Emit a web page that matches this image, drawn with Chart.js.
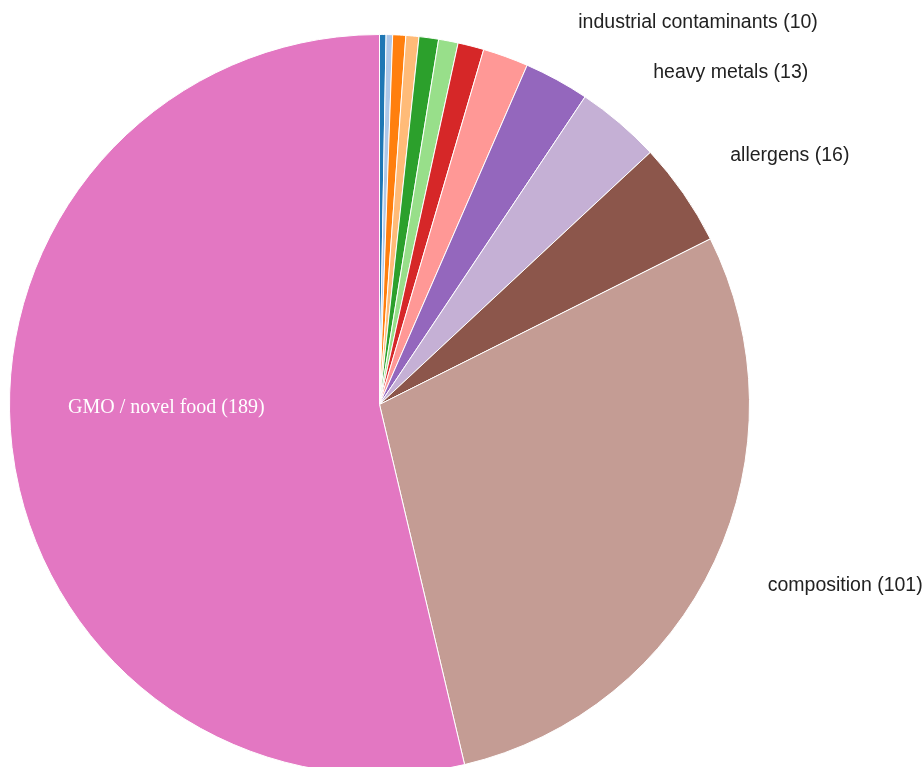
<!DOCTYPE html>
<html>
<head>
<meta charset="utf-8">
<script src="https://cdn.jsdelivr.net/npm/chart.js@4/dist/chart.umd.min.js"></script>
<style>
  html, body { margin: 0; padding: 0; background: #fff; overflow: hidden; }
  #wrap { position: relative; width: 923px; height: 800px; }
</style>
</head>
<body>
<div id="wrap"><canvas id="graph"></canvas></div>
<script>
// Hazard categories, clockwise from 12 o'clock
const categories = [
  'pathogenic micro-organisms',
  'mycotoxins',
  'pesticide residues',
  'foreign bodies',
  'food additives',
  'labelling',
  'veterinary residues',
  'poor or insufficient controls',
  'industrial contaminants',
  'heavy metals',
  'allergens',
  'composition',
  'GMO / novel food'
];
const counts = [1, 1, 2, 2, 3, 3, 4, 7, 10, 13, 16, 101, 189];
const colors = [
  '#1f77b4', '#aec7e8', '#ff7f0e', '#ffbb78', '#2ca02c', '#98df8a',
  '#d62728', '#ff9896', '#9467bd', '#c5b0d5', '#8c564b', '#c49c94', '#e377c2'
];
// slices with a label outside the pie, and the one labelled inside
const outsideLabels = ['industrial contaminants', 'heavy metals', 'allergens', 'composition'];
const insideLabels = ['GMO / novel food'];

// Draws "name (count)" labels next to / inside slices
const sliceLabels = {
  id: 'sliceLabels',
  afterDatasetsDraw(chart) {
    const ctx = chart.ctx;
    const meta = chart.getDatasetMeta(0);
    ctx.save();
    meta.data.forEach((arc, i) => {
      const name = categories[i];
      const text = name + ' (' + counts[i] + ')';
      const mid = (arc.startAngle + arc.endAngle) / 2;
      const r = arc.outerRadius;
      if (outsideLabels.includes(name)) {
        const x = arc.x + Math.cos(mid) * r * 1.2;
        const y = arc.y + Math.sin(mid) * r * 1.17;
        ctx.font = '19.5px "Liberation Sans", Arial, sans-serif';
        ctx.fillStyle = '#222';
        ctx.textAlign = 'left';
        ctx.textBaseline = 'middle';
        ctx.fillText(text, x - 14, y - 2);
      } else if (insideLabels.includes(name)) {
        const x = arc.x + Math.cos(mid) * r * 0.58;
        ctx.font = '20px "Liberation Serif", "Times New Roman", serif';
        ctx.fillStyle = '#fff';
        ctx.textAlign = 'center';
        ctx.textBaseline = 'middle';
        ctx.fillText(text, x, arc.y + 3);
      }
    });
    ctx.restore();
  }
};

const config = {
  type: 'pie',
  data: {
    labels: categories,
    datasets: [{
      data: counts,
      backgroundColor: colors,
      borderColor: '#fff',
      borderWidth: 1,
      hoverOffset: 0
    }]
  },
  options: {
    responsive: true,
    maintainAspectRatio: false,
    animation: false,
    layout: {
      padding: { left: 9, right: 173, top: 34, bottom: 25 }
    },
    plugins: {
      legend: { display: false },
      tooltip: { enabled: false }
    }
  },
  plugins: [sliceLabels]
};

const myChart = new Chart(document.getElementById('graph').getContext('2d'), config);
</script>
</body>
</html>
